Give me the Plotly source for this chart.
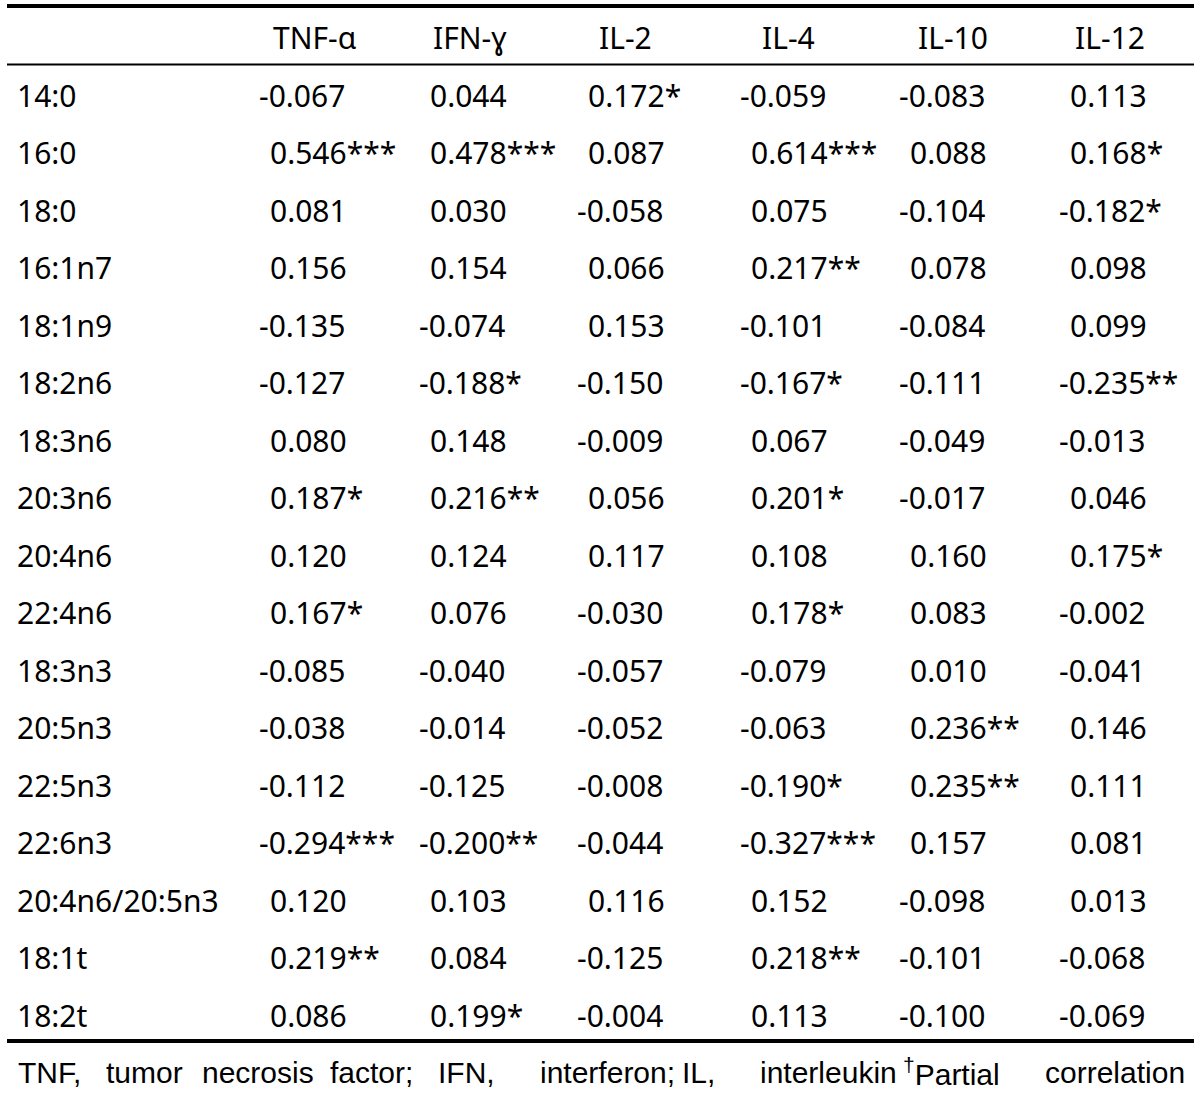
import plotly.graph_objects as go

# ---------------- data ----------------
rows = ["14:0", "16:0", "18:0", "16:1n7", "18:1n9", "18:2n6", "18:3n6", "20:3n6",
        "20:4n6", "22:4n6", "18:3n3", "20:5n3", "22:5n3", "22:6n3",
        "20:4n6/20:5n3", "18:1t", "18:2t"]
columns = ["TNF-α", "IFN-ɣ", "IL-2", "IL-4", "IL-10", "IL-12"]

tnf_a = [-0.067, 0.546, 0.081, 0.156, -0.135, -0.127, 0.080, 0.187, 0.120, 0.167,
         -0.085, -0.038, -0.112, -0.294, 0.120, 0.219, 0.086]
tnf_a_sig = [0, 3, 0, 0, 0, 0, 0, 1, 0, 1, 0, 0, 0, 3, 0, 2, 0]

ifn_g = [0.044, 0.478, 0.030, 0.154, -0.074, -0.188, 0.148, 0.216, 0.124, 0.076,
         -0.040, -0.014, -0.125, -0.200, 0.103, 0.084, 0.199]
ifn_g_sig = [0, 3, 0, 0, 0, 1, 0, 2, 0, 0, 0, 0, 0, 2, 0, 0, 1]

il_2 = [0.172, 0.087, -0.058, 0.066, 0.153, -0.150, -0.009, 0.056, 0.117, -0.030,
        -0.057, -0.052, -0.008, -0.044, 0.116, -0.125, -0.004]
il_2_sig = [1, 0, 0, 0, 0, 0, 0, 0, 0, 0, 0, 0, 0, 0, 0, 0, 0]

il_4 = [-0.059, 0.614, 0.075, 0.217, -0.101, -0.167, 0.067, 0.201, 0.108, 0.178,
        -0.079, -0.063, -0.190, -0.327, 0.152, 0.218, 0.113]
il_4_sig = [0, 3, 0, 2, 0, 1, 0, 1, 0, 1, 0, 0, 1, 3, 0, 2, 0]

il_10 = [-0.083, 0.088, -0.104, 0.078, -0.084, -0.111, -0.049, -0.017, 0.160, 0.083,
         0.010, 0.236, 0.235, 0.157, -0.098, -0.101, -0.100]
il_10_sig = [0, 0, 0, 0, 0, 0, 0, 0, 0, 0, 0, 2, 2, 0, 0, 0, 0]

il_12 = [0.113, 0.168, -0.182, 0.098, 0.099, -0.235, -0.013, 0.046, 0.175, -0.002,
         -0.041, 0.146, 0.111, 0.081, 0.013, -0.068, -0.069]
il_12_sig = [0, 1, 1, 0, 0, 2, 0, 0, 1, 0, 0, 0, 0, 0, 0, 0, 0]

footnote_words = ["TNF,", "tumor", "necrosis", "factor;", "IFN,", "interferon;",
                  "IL,", "interleukin", "<sup>†</sup>Partial", "correlation"]

series = [(tnf_a, tnf_a_sig), (ifn_g, ifn_g_sig), (il_2, il_2_sig),
          (il_4, il_4_sig), (il_10, il_10_sig), (il_12, il_12_sig)]

# ---------------- layout ----------------
W, H = 1200, 1094
FONT = "Noto Sans, Open Sans, sans-serif"
FOOT_FONT = "Liberation Sans, Arial, sans-serif"
FS = 30
row_y0, row_dy = 95, 57.5
header_y = 37
col_start = [268, 428, 586, 749, 908, 1068]
col_head = [315, 470, 625, 788, 953, 1110]
minus_w = 11
left_x = 15
line_x0, line_x1 = 7, 1194

fig = go.Figure()
fig.add_trace(go.Scatter(x=[0, W], y=[0, H], mode="markers",
                         marker=dict(opacity=0), hoverinfo="skip", showlegend=False))

ann = []
for c, name in enumerate(columns):
    ann.append(dict(x=col_head[c], y=header_y, text=name, xanchor="center",
                    yanchor="middle", showarrow=False,
                    font=dict(family=FONT, size=FS, color="black")))
for i, r in enumerate(rows):
    y = row_y0 + row_dy * i
    ann.append(dict(x=left_x, y=y, text=r, xanchor="left", yanchor="middle",
                    showarrow=False, font=dict(family=FONT, size=FS, color="black")))
    for c, (vals, sig) in enumerate(series):
        v = vals[i]
        txt = f"{v:.3f}" + "*" * sig[i]
        x = col_start[c] - (minus_w if txt.startswith("-") else 0)
        ann.append(dict(x=x, y=y, text=txt, xanchor="left", yanchor="middle",
                        showarrow=False, font=dict(family=FONT, size=FS, color="black")))

# footnote, justified
foot_x = [16, 104, 200, 328, 436, 538, 680, 758, 901, 1187]
for k, (w, fx) in enumerate(zip(footnote_words, foot_x)):
    last = k == len(footnote_words) - 1
    ann.append(dict(x=fx, y=1072, text=w, xanchor="right" if last else "left",
                    yanchor="middle", showarrow=False,
                    font=dict(family=FOOT_FONT, size=30, color="black")))

shapes = [
    dict(type="line", x0=line_x0, x1=line_x1, y0=6, y1=6, line=dict(color="black", width=4)),
    dict(type="line", x0=line_x0, x1=line_x1, y0=64.5, y1=64.5, line=dict(color="black", width=2)),
    dict(type="line", x0=line_x0, x1=line_x1, y0=1041, y1=1041, line=dict(color="black", width=4)),
]

fig.update_layout(
    width=W, height=H, margin=dict(l=0, r=0, t=0, b=0),
    paper_bgcolor="white", plot_bgcolor="white",
    xaxis=dict(range=[0, W], visible=False, fixedrange=True),
    yaxis=dict(range=[H, 0], visible=False, fixedrange=True),
    annotations=ann, shapes=shapes, showlegend=False,
)

fig.write_html("out.html", config={"displayModeBar": False},
               post_script="document.body.style.margin='0';document.body.style.overflow='hidden';")
